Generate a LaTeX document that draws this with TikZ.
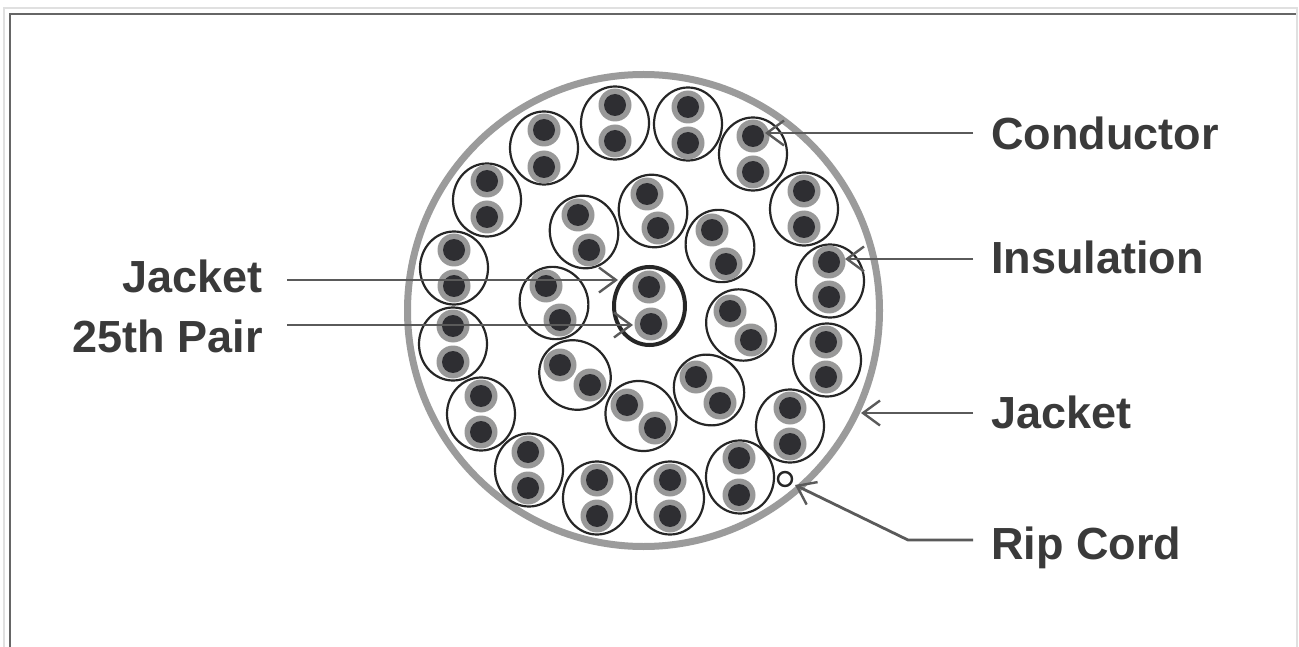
\documentclass[tikz,border=0pt]{standalone}
\usepackage{fontspec}
\setmainfont{Liberation Sans}
\usetikzlibrary{arrows.meta,shapes.geometric}
\definecolor{jack}{HTML}{9B9B9B}
\definecolor{ins}{HTML}{989898}
\definecolor{cond}{HTML}{2E2E32}
\definecolor{lead}{HTML}{5A5A5A}
\definecolor{txt}{HTML}{3A3A3A}
\tikzset{
  cable/.style={ellipse,draw=black!85,line width=2.2pt,minimum width=73pt,minimum height=68pt,inner sep=0pt},
  insul/.style={circle,fill=ins,minimum size=33pt,inner sep=0pt},
  wire/.style={circle,fill=cond,minimum size=22pt,inner sep=0pt},
  lbl/.style={font=\bfseries\fontsize{45}{45}\selectfont,text=txt,inner sep=0pt},
  leader/.style={draw=lead,line width=2.8pt,-{Straight Barb[length=17pt,width=25pt,line width=2.4pt]}},
}
\begin{document}
\begin{tikzpicture}[x=1pt,y=-1pt]
\useasboundingbox (0,0) rectangle (1299,647);
\fill[white] (0,0) rectangle (1299,647);
\draw[black!12,line width=2pt] (4,647) -- (4,8) -- (1297,8) -- (1297,647);
\draw[black!60,line width=2.4pt] (10,647) -- (10,14) -- (1296,14);
\node[circle,draw=jack,line width=7pt,minimum size=472pt,inner sep=0pt] (outer) at (643.5,310.5) {};
\foreach \i/\cx/\cy/\ax/\ay/\bx/\by in {
 1/544/148/544/130/544/167, 2/615/123/615/105/615/141, 3/688/124/688/107/688/143,
 4/753/154/753/136/753/172, 5/804/209/804/191/804/227, 6/830/281/829/262/829/297,
 7/827/360/826/342/826/377, 8/790/426/790/408/790/444, 9/740/477/739/458/739/495,
 10/670/498/670/480/670/516, 11/597/498/597/480/597/516, 12/529/470/528/452/528/488,
 13/481/414/481/396/481/432, 14/453/344/453/326/453/362, 15/454/268/454/250/454/286,
 16/487/200/487/181/487/217,
 17/584/232/578/215/589/250, 18/653/211/647/194/658/228, 19/720/246/712/230/726/264,
 20/741/325/730/311/751/340, 21/709/390/696/377/720/403, 22/641/416/627/405/655/428,
 23/575/375/560/365/590/385, 24/554/303/546/286/560/320}{
  \pgfmathsetmacro{\ang}{atan2(\ay-\by,\bx-\ax)}
  \node[cable,rotate=\ang] (c\i) at (\cx,\cy) {};
  \node[insul] (i\i a) at (\ax,\ay) {};
  \node[insul] (i\i b) at (\bx,\by) {};
  \node[wire] (w\i a) at (\ax,\ay) {};
  \node[wire] (w\i b) at (\bx,\by) {};
}
\node[insul] (icA) at (649,287) {};
\node[insul] (icB) at (651,324) {};
\node[wire] (wcA) at (649,287) {};
\node[wire] (wcB) at (651,324) {};
\node[ellipse,draw=black!85,line width=4pt,minimum width=71pt,minimum height=78pt,inner sep=0pt] (center) at (649.5,306) {};
\node[circle,draw=black!85,fill=white,line width=2.4pt,minimum size=14pt,inner sep=0pt] (rip) at (785,479) {};
\node[lbl,anchor=base west] (tCond) at (991,149.5) {Conductor};
\node[lbl,anchor=base west] (tIns) at (991,273.5) {Insulation};
\node[lbl,anchor=base west] (tJackR) at (991,428) {Jacket};
\node[lbl,anchor=base west] (tRip) at (991,559) {Rip Cord};
\node[lbl,anchor=base east] (tJackL) at (263,292) {Jacket};
\node[lbl,anchor=base east] (tPair) at (263,352) {25th Pair};
\coordinate (sCond) at (973,133); \coordinate (eCond) at (765,133);
\coordinate (sIns) at (973,259); \coordinate (eIns) at (845,259);
\coordinate (sJackR) at (973,413); \coordinate (eJackR) at (861,413);
\coordinate (sRip) at (973,540); \coordinate (kRip) at (908,540); \coordinate (eRip) at (795,485);
\coordinate (sJackL) at (287,280); \coordinate (eJackL) at (618,280);
\coordinate (sPair) at (287,325); \coordinate (ePair) at (633,325);
\draw[leader] (sCond) -- (eCond);
\draw[leader] (sIns) -- (eIns);
\draw[leader] (sJackR) -- (eJackR);
\draw[leader] (sRip) -- (kRip) -- (eRip);
\draw[leader] (sJackL) -- (eJackL);
\draw[leader] (sPair) -- (ePair);
\end{tikzpicture}
\end{document}
